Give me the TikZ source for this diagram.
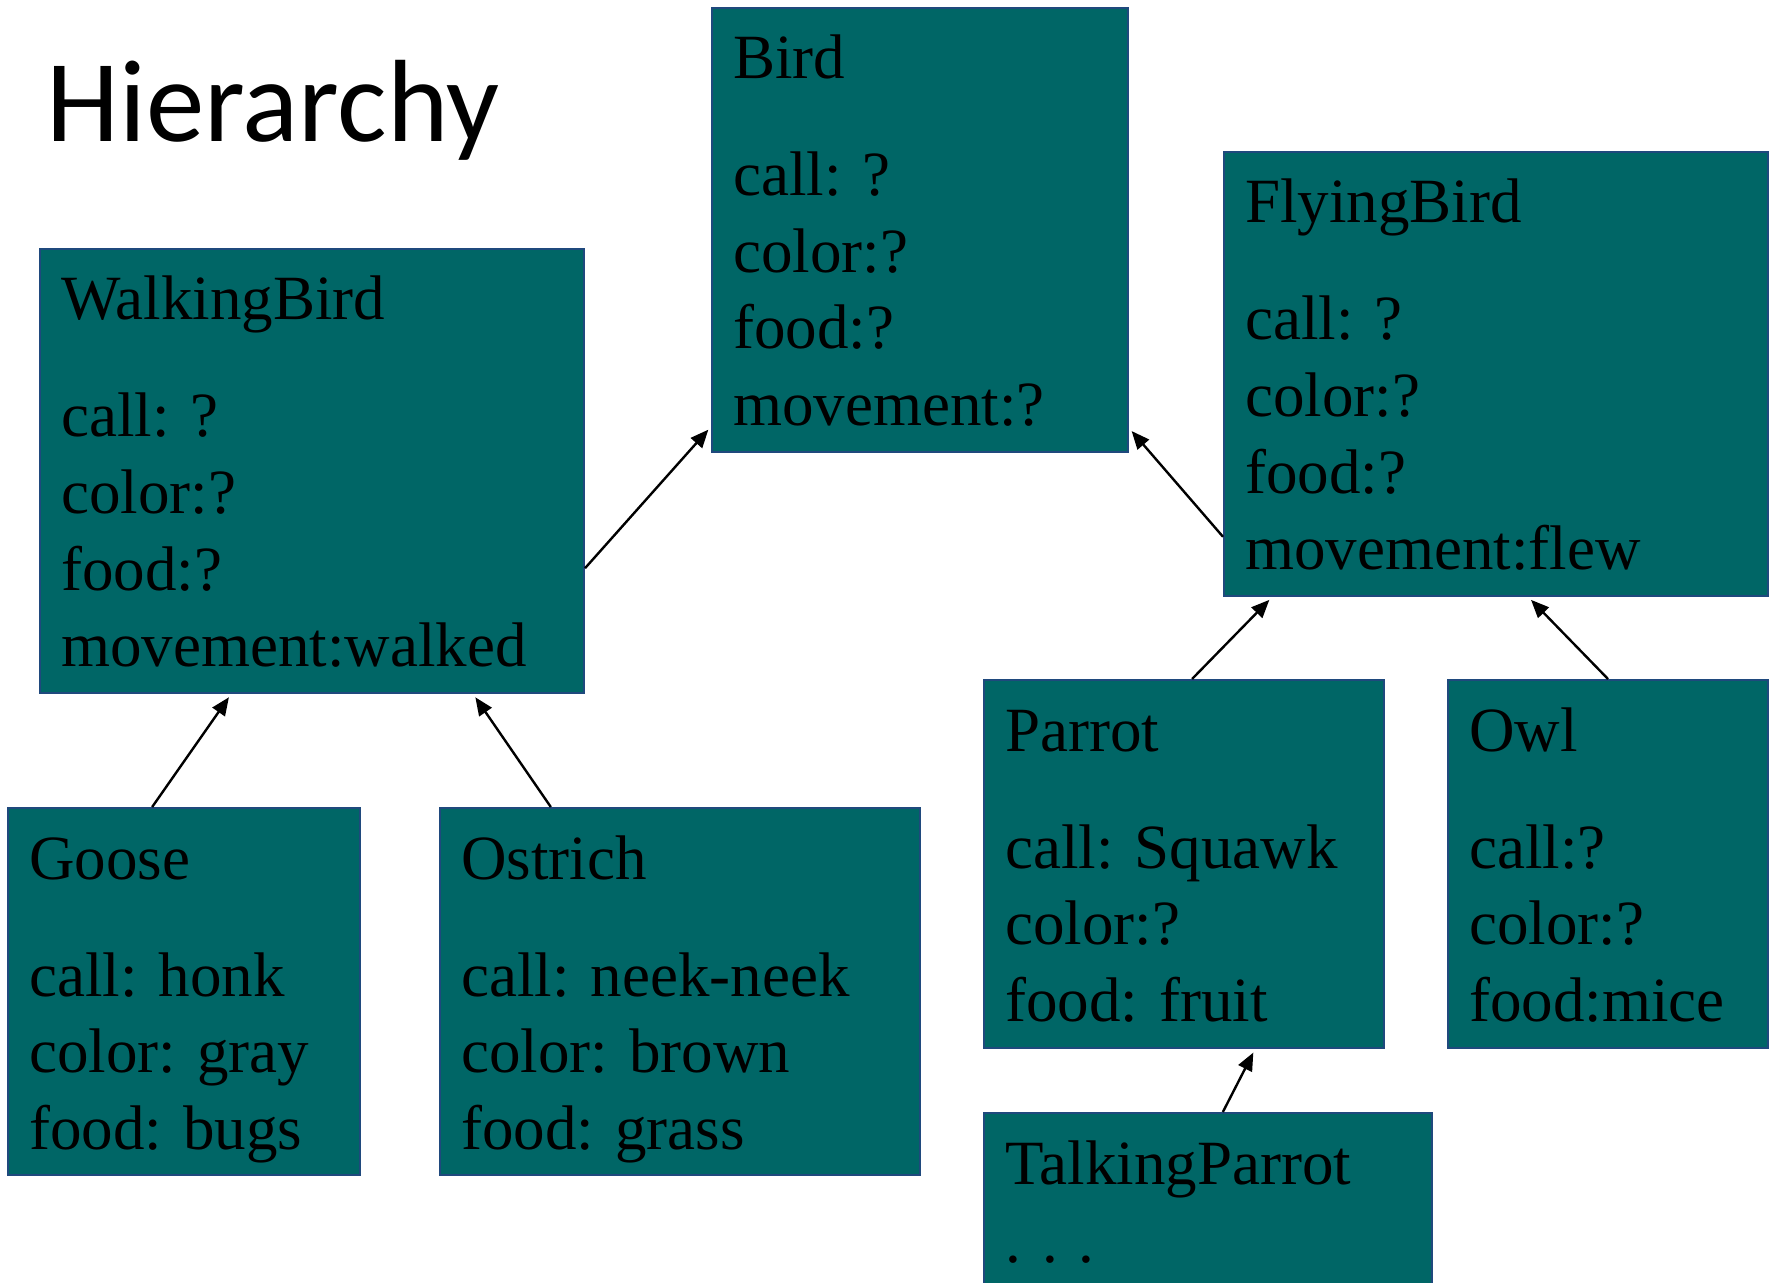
\documentclass[tikz,border=0pt]{standalone}
\usepackage{fontspec}
\setmainfont{Liberation Serif}
\newfontfamily\titlefont{Carlito}
\usetikzlibrary{calc,arrows.meta}
\definecolor{boxfill}{RGB}{0,102,102}
\definecolor{boxline}{RGB}{31,73,125}
\tikzset{
  birdbox/.style={draw=boxline, line width=1pt, fill=boxfill, rectangle, anchor=north west, inner sep=0pt},
  ttl/.style={anchor=base west, inner sep=0pt, font=\fontsize{31.5}{38}\selectfont, text=black},
  attr/.style={anchor=base west, inner sep=0pt, font=\fontsize{31.5}{38}\selectfont, text=black},
  inh/.style={-{Triangle[length=9pt,width=7.5pt]}, line width=1.2pt, shorten >=2pt}
}
\begin{document}
\begin{tikzpicture}[x=0.5pt,y=-0.5pt]
\useasboundingbox (0,0) rectangle (1776,1283);
\fill[white] (0,0) rectangle (1776,1283);
% title
\node[anchor=base west, inner sep=0pt, font=\titlefont\fontsize{58.5}{62}\selectfont] (title) at (46,142) {Hierarchy};
% boxes
\node[birdbox, minimum width=208pt, minimum height=222pt] (bird) at (711,7) {};
\node[birdbox, minimum width=272pt, minimum height=222pt] (flying) at (1223,151) {};
\node[birdbox, minimum width=272pt, minimum height=222pt] (walking) at (39,248) {};
\node[birdbox, minimum width=176pt, minimum height=183.5pt] (goose) at (7,807) {};
\node[birdbox, minimum width=240pt, minimum height=183.5pt] (ostrich) at (439,807) {};
\node[birdbox, minimum width=200pt, minimum height=184pt] (parrot) at (983,679) {};
\node[birdbox, minimum width=160pt, minimum height=184pt] (owl) at (1447,679) {};
\node[birdbox, minimum width=224pt, minimum height=110pt] (talking) at (983,1112) {};
% texts
\node[ttl] (birdT) at ($(bird.north west)+(22,72)$) {Bird};
\foreach \t [count=\i] in {call: ?, color:?, food:?, movement:?}
  \node[attr] (bird\i) at ($(bird.north west)+(22,{189+(\i-1)*76.5})$) {\t};
\node[ttl] (flyingT) at ($(flying.north west)+(22,72)$) {FlyingBird};
\foreach \t [count=\i] in {call: ?, color:?, food:?, movement:flew}
  \node[attr] (flying\i) at ($(flying.north west)+(22,{189+(\i-1)*76.5})$) {\t};
\node[ttl] (walkingT) at ($(walking.north west)+(22,72)$) {WalkingBird};
\foreach \t [count=\i] in {call: ?, color:?, food:?, movement:walked}
  \node[attr] (walking\i) at ($(walking.north west)+(22,{189+(\i-1)*76.5})$) {\t};
\node[ttl] (gooseT) at ($(goose.north west)+(22,72)$) {Goose};
\foreach \t [count=\i] in {call: honk, color: gray, food: bugs}
  \node[attr] (goose\i) at ($(goose.north west)+(22,{189+(\i-1)*76.5})$) {\t};
\node[ttl] (ostrichT) at ($(ostrich.north west)+(22,72)$) {Ostrich};
\foreach \t [count=\i] in {call: neek-neek, color: brown, food: grass}
  \node[attr] (ostrich\i) at ($(ostrich.north west)+(22,{189+(\i-1)*76.5})$) {\t};
\node[ttl] (parrotT) at ($(parrot.north west)+(22,72)$) {Parrot};
\foreach \t [count=\i] in {call: Squawk, color:?, food: fruit}
  \node[attr] (parrot\i) at ($(parrot.north west)+(22,{189+(\i-1)*76.5})$) {\t};
\node[ttl] (owlT) at ($(owl.north west)+(22,72)$) {Owl};
\foreach \t [count=\i] in {call:?, color:?, food:mice}
  \node[attr] (owl\i) at ($(owl.north west)+(22,{189+(\i-1)*76.5})$) {\t};
\node[ttl] (talkingT) at ($(talking.north west)+(22,72)$) {TalkingParrot};
\node[attr] (talking1) at ($(talking.north west)+(22,150)$) {. . .};
% connectors
\draw[inh] ($(walking.north east)!0.718!(walking.south east)$) -- ($(bird.north west)!0.941!(bird.south west)$);
\draw[inh] ($(flying.north west)!0.865!(flying.south west)$) -- ($(bird.north east)!0.944!(bird.south east)$);
\draw[inh] ($(goose.north west)!0.41!(goose.north east)$) -- ($(walking.south west)!0.352!(walking.south east)$);
\draw[inh] ($(ostrich.north west)!0.232!(ostrich.north east)$) -- ($(walking.south west)!0.795!(walking.south east)$);
\draw[inh] ($(parrot.north west)!0.52!(parrot.north east)$) -- ($(flying.south west)!0.09!(flying.south east)$);
\draw[inh] ($(owl.north west)!0.5!(owl.north east)$) -- ($(flying.south west)!0.559!(flying.south east)$);
\draw[inh] ($(talking.north west)!0.533!(talking.north east)$) -- ($(parrot.south west)!0.677!(parrot.south east)$);
\end{tikzpicture}
\end{document}
